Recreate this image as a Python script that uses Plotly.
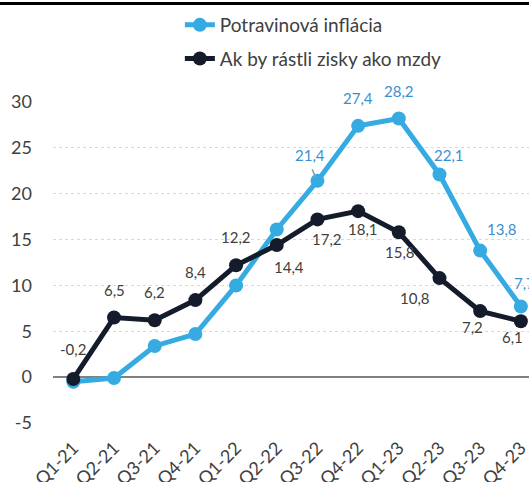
import plotly.graph_objects as go

categories = ["Q1-21", "Q2-21", "Q3-21", "Q4-21", "Q1-22", "Q2-22",
              "Q3-22", "Q4-22", "Q1-23", "Q2-23", "Q3-23", "Q4-23"]
food_inflation = [-0.5, -0.1, 3.4, 4.7, 10.0, 16.1, 21.4, 27.4, 28.2, 22.1, 13.8, 7.7]
profits_as_wages = [-0.2, 6.5, 6.2, 8.4, 12.2, 14.4, 17.2, 18.1, 15.8, 10.8, 7.2, 6.1]
y_tick_vals = [-5, 0, 5, 10, 15, 20, 25, 30]
y_tick_text = ["-5", "0", "5", "10", "15", "20", "25", "30"]

# which blue points get labels, and label offsets (px)
food_label_idx = [6, 7, 8, 9, 10, 11]
food_offsets = [(-7, 26), (0, 28), (0, 28), (9, 19), (22, 22), (4, 24)]
wage_offsets = [(0, 30), (0, 28), (0, 28), (0, 28), (0, 28), (12, -22),
                (10, -20), (5, -18), (1, -20), (-25, -20), (-8, -16), (-8, -16)]

BLUE = "#35abe2"
DARK = "#141c2b"
FONT = "Lato"

fig = go.Figure()
fig.add_trace(go.Scatter(
    x=categories, y=food_inflation, mode="lines+markers", name="Potravinová inflácia",
    line=dict(color=BLUE, width=5), marker=dict(size=14, color=BLUE),
    legendgroup="a"))
fig.add_trace(go.Scatter(
    x=categories, y=profits_as_wages, mode="lines+markers", name="Ak by rástli zisky ako mzdy",
    line=dict(color=DARK, width=5), marker=dict(size=14, color=DARK),
    legendgroup="b"))

def fmt(v):
    return f"{v:.1f}".replace(".", ",")

ann = []
for i, (dx, dy) in zip(food_label_idx, food_offsets):
    ann.append(dict(x=categories[i], y=food_inflation[i], text=fmt(food_inflation[i]),
                    xref="x", yref="y", showarrow=False, xshift=dx, yshift=dy,
                    font=dict(family=FONT, size=15, color="#3a8fd2")))
for i, (dx, dy) in enumerate(wage_offsets):
    ann.append(dict(x=categories[i], y=profits_as_wages[i], text=fmt(profits_as_wages[i]),
                    xref="x", yref="y", showarrow=False, xshift=dx, yshift=dy,
                    font=dict(family=FONT, size=15, color="#404040")))
# small leader line for 21,4
ann.append(dict(x=categories[6], y=food_inflation[6], xref="x", yref="y", text="",
                showarrow=True, arrowhead=0, arrowwidth=1.5, arrowcolor="#8a9bb0",
                ax=-6, ay=-13, standoff=3))

fig.update_layout(
    width=529, height=482,
    margin=dict(l=53, r=0, t=102, b=59, autoexpand=False),
    paper_bgcolor="white", plot_bgcolor="white",
    font=dict(family=FONT, color="#404040"),
    annotations=ann,
    showlegend=True,
    legend=dict(xref="container", yref="container", x=0.340, y=0.9876,
                xanchor="left", yanchor="top", tracegroupgap=6,
                font=dict(family=FONT, size=19, color="#404040"),
                bgcolor="rgba(0,0,0,0)"),
    shapes=[dict(type="line", xref="paper", yref="paper", x0=-0.12, x1=1.05,
                 y0=1.3069, y1=1.3069, line=dict(color="black", width=3),
                 layer="above")],
)
fig.update_xaxes(range=[-0.5, 11.2], tickangle=-45, showgrid=False, showline=False,
                 ticks="", automargin=False, ticklabelstandoff=10,
                 tickfont=dict(family=FONT, size=18, color="#404040"))
fig.update_yaxes(range=[-5, 30], tickvals=y_tick_vals, ticktext=y_tick_text,
                 showgrid=True, gridcolor="#d9d9d9",
                 griddash="dot", gridwidth=1, zeroline=True, zerolinecolor="#808080",
                 zerolinewidth=2, showline=False, ticks="", ticklabelstandoff=20,
                 automargin=False,
                 tickfont=dict(family=FONT, size=18, color="#404040"))

fig.write_html("out.html", config={"displayModeBar": False},
               post_script="document.body.style.margin='0';")
